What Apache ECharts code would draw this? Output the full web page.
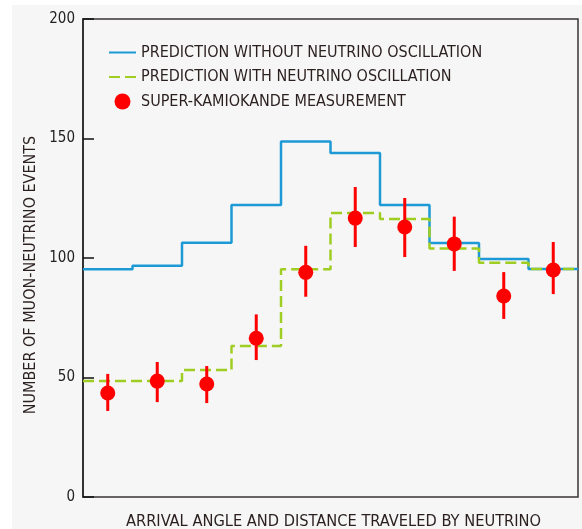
<!DOCTYPE html>
<html>
<head>
<meta charset="utf-8">
<script src="https://cdn.jsdelivr.net/npm/echarts@6/dist/echarts.min.js"></script>
<style>
  html, body { margin: 0; padding: 0; background: #ffffff; }
  #paper { position: absolute; left: 12px; top: 5px; width: 570px; height: 524px; background: #f6f6f6; }
  #chart { position: absolute; left: 0; top: 0; width: 582px; height: 529px; }
</style>
</head>
<body>
<div id="paper"></div>
<div id="chart"></div>
<script>
// bins along the arrival angle / distance axis (10 equal bins)
var binCount = 10;
var noOscillation = [95.3, 96.8, 106.4, 122.2, 148.7, 143.9, 122.2, 106.3, 99.6, 95.4];
var withOscillation = [48.5, 48.5, 53.1, 63.2, 95.3, 118.8, 116.3, 104.0, 98.0, 95.4];
// Super-Kamiokande points and their error bars
var measured = [43.5, 48.5, 47.3, 66.4, 94.0, 116.7, 113.0, 105.9, 84.1, 95.0];
var errHigh = [51.5, 56.5, 54.8, 76.4, 105.1, 129.7, 125.1, 117.3, 94.1, 106.7];
var errLow = [36.0, 39.7, 39.3, 57.3, 83.8, 104.6, 100.4, 94.6, 74.5, 84.9];
var yTicks = [0, 50, 100, 150, 200];

var FONT = "'Liberation Sans Narrow', 'DejaVu Sans Condensed', sans-serif";

function stepData(vals) {
  var d = vals.map(function (v, i) { return [i, v]; });
  d.push([vals.length, vals[vals.length - 1]]);
  return d;
}

var myChart = echarts.init(document.getElementById("chart"));

var option = {
  animation: false,
  backgroundColor: "transparent",
  grid: {
    left: 83,
    right: 4,
    top: 19,
    height: 478,
    outerBoundsMode: "none",
    containLabel: false,
    show: true,
    borderColor: "#3a3535",
    borderWidth: 1.5,
    backgroundColor: "transparent"
  },
  legend: {
    left: 103,
    top: 39.5,
    orient: "vertical",
    itemWidth: 27,
    itemHeight: 16,
    itemGap: 8.5,
    textStyle: { color: "#2b1f1f", fontSize: 16, fontFamily: FONT },
    data: [
      { name: "PREDICTION WITHOUT NEUTRINO OSCILLATION", itemStyle: { opacity: 0 } },
      { name: "PREDICTION WITH NEUTRINO OSCILLATION", itemStyle: { opacity: 0 } },
      { name: "SUPER-KAMIOKANDE MEASUREMENT" }
    ]
  },
  xAxis: {
    type: "value",
    min: 0,
    max: binCount,
    axisLabel: { show: false },
    axisTick: { show: false },
    splitLine: { show: false },
    axisLine: { show: false },
    name: "ARRIVAL ANGLE AND DISTANCE TRAVELED BY NEUTRINO",
    nameLocation: "middle",
    nameGap: 17,
    nameTextStyle: { color: "#2b1f1f", fontSize: 16.3, fontFamily: FONT, padding: [0, 0, 0, 6] }
  },
  yAxis: {
    type: "value",
    min: yTicks[0],
    max: yTicks[yTicks.length - 1],
    interval: 50,
    axisLine: { show: true, lineStyle: { color: "#222", width: 1.5 } },
    axisTick: { show: true, inside: true, length: 11, lineStyle: { color: "#111", width: 1.5 } },
    splitLine: { show: false },
    axisLabel: { color: "#222", fontSize: 15, margin: 8, fontFamily: FONT },
    name: "NUMBER OF MUON-NEUTRINO EVENTS",
    nameLocation: "middle",
    nameRotate: 90,
    nameGap: 41,
    nameTextStyle: { color: "#2b1f1f", fontSize: 16, fontFamily: FONT, padding: [0, 34, 0, 0] }
  },
  series: [
    {
      name: "PREDICTION WITHOUT NEUTRINO OSCILLATION",
      type: "line",
      step: "end",
      symbol: "none",
      data: stepData(noOscillation),
      lineStyle: { color: "#1d9ad6", width: 2.5 },
      itemStyle: { color: "#1d9ad6" },
      z: 2
    },
    {
      name: "PREDICTION WITH NEUTRINO OSCILLATION",
      type: "line",
      step: "end",
      symbol: "none",
      data: stepData(withOscillation),
      lineStyle: { color: "#9fcd22", width: 2.5, type: [11, 5] },
      itemStyle: { color: "#9fcd22" },
      z: 3
    },
    {
      name: "errorbars",
      type: "custom",
      data: measured.map(function (v, i) { return [i + 0.5, errLow[i], errHigh[i]]; }),
      renderItem: function (params, api) {
        var lo = api.coord([api.value(0), api.value(1)]);
        var hi = api.coord([api.value(0), api.value(2)]);
        return {
          type: "line",
          shape: { x1: lo[0], y1: lo[1], x2: hi[0], y2: hi[1] },
          style: { stroke: "#ff0000", lineWidth: 3 }
        };
      },
      z: 4
    },
    {
      name: "SUPER-KAMIOKANDE MEASUREMENT",
      type: "scatter",
      symbol: "circle",
      symbolSize: 15,
      data: measured.map(function (v, i) { return [i + 0.5, v]; }),
      itemStyle: { color: "#ff0000", opacity: 1 },
      z: 5
    }
  ]
};

myChart.setOption(option);
</script>
</body>
</html>
